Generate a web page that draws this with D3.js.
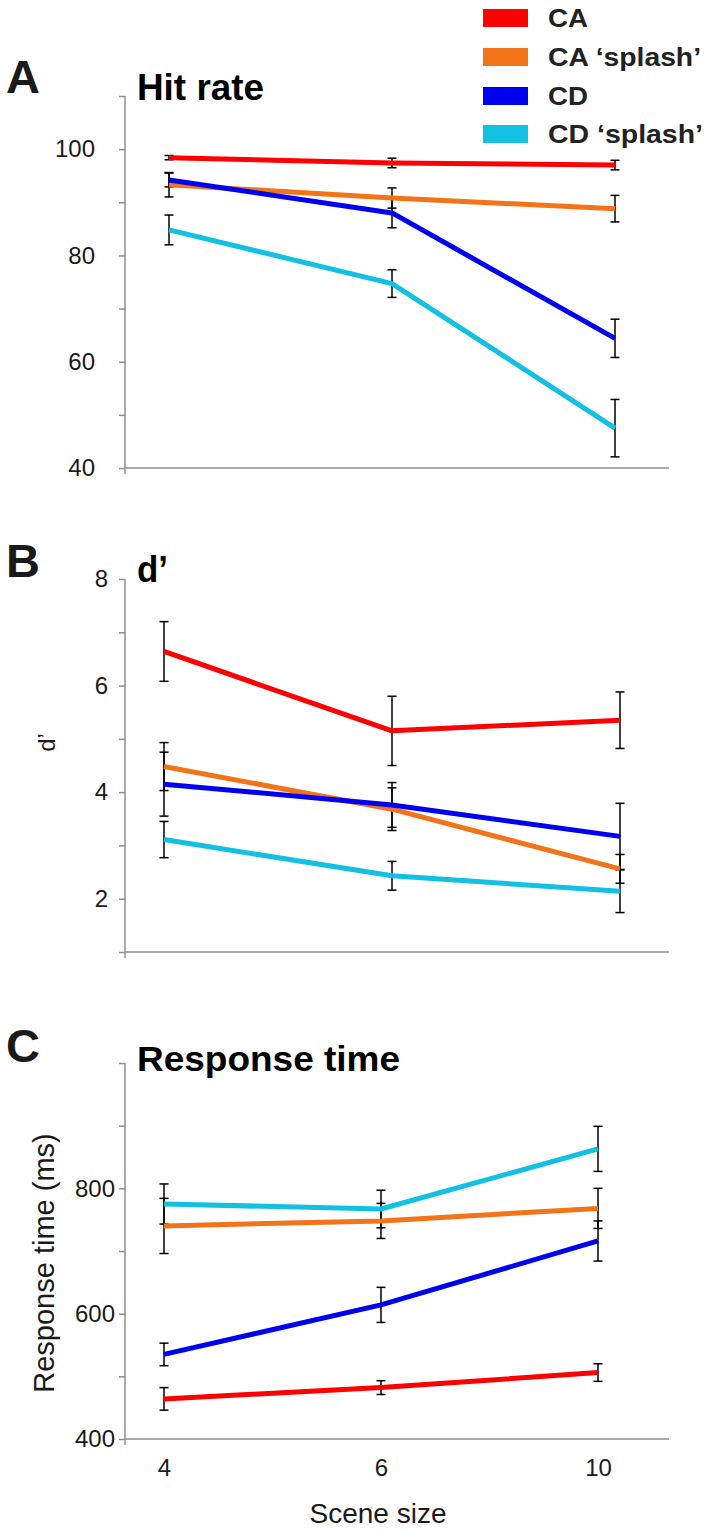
<!DOCTYPE html>
<html>
<head>
<meta charset="utf-8">
<script src="https://cdn.jsdelivr.net/npm/d3@7"></script>
<style>
  html, body { margin: 0; padding: 0; background: #fff; }
  svg { display: block; font-family: "Liberation Sans", Arial, Helvetica, sans-serif; }
</style>
</head>
<body>
<svg id="chart" width="710" height="1530"></svg>
<script>
// ---------- data ----------
const sceneSizes = ["4", "6", "10"];
const seriesNames = ["CA", "CA \u2018splash\u2019", "CD", "CD \u2018splash\u2019"];
const seriesColors = ["#ff0000", "#f27318", "#0000f0", "#12c0e4"];

// Panel A: Hit rate (%)
const hitCA = [98.4, 97.4, 97.0];
const hitCAsplash = [93.3, 90.8, 88.8];
const hitCD = [94.2, 88.0, 64.4];
const hitCDsplash = [84.8, 74.7, 47.5];
const hitErrCA = [0.4, 0.9, 0.9];
const hitErrCAsplash = [2.3, 1.9, 2.5];
const hitErrCD = [1.3, 2.8, 3.6];
const hitErrCDsplash = [2.8, 2.6, 5.4];

// Panel B: d'
const dCA = [6.64, 5.15, 5.35];
const dCAsplash = [4.48, 3.68, 2.56];
const dCD = [4.15, 3.76, 3.17];
const dCDsplash = [3.11, 2.43, 2.14];
const dErrCA = [0.56, 0.65, 0.53];
const dErrCAsplash = [0.45, 0.4, 0.27];
const dErrCD = [0.6, 0.42, 0.62];
const dErrCDsplash = [0.34, 0.27, 0.4];

// Panel C: Response time (ms)
const rtCA = [464, 482, 506];
const rtCAsplash = [740, 748, 768];
const rtCD = [535, 614, 716];
const rtCDsplash = [775, 767, 863];
const rtErrCA = [18, 11, 14];
const rtErrCAsplash = [44, 28, 32];
const rtErrCD = [18, 28, 32];
const rtErrCDsplash = [32, 30, 36];

const hitTicks = [110, 100, 90, 80, 70, 60, 50, 40];
const hitTickLabels = [100, 80, 60, 40];
const dTicks = [8, 7, 6, 5, 4, 3, 2, 1];
const dTickLabels = [8, 6, 4, 2];
const rtTicks = [1000, 900, 800, 700, 600, 500, 400];
const rtTickLabels = [800, 600, 400];

// ---------- drawing ----------
const svg = d3.select("#chart");
const axisColor = "#8f8f8f";

const panels = [
  { letter: "A", letterY: 93, title: "Hit rate", titleY: 100, titleLen: 127, titleSize: 36,
    domain: [40, 110], yTop: 96, yBot: 468, xRange: [169, 615], labelPad: 24,
    ticks: hitTicks, labels: hitTickLabels,
    values: [hitCA, hitCAsplash, hitCD, hitCDsplash],
    errs: [hitErrCA, hitErrCAsplash, hitErrCD, hitErrCDsplash] },
  { letter: "B", letterY: 577, title: "d\u2019", titleY: 582, titleLen: 31, titleSize: 36,
    domain: [1, 8], yTop: 579, yBot: 952, xRange: [164, 620], labelPad: 11,
    ticks: dTicks, labels: dTickLabels,
    values: [dCA, dCAsplash, dCD, dCDsplash],
    errs: [dErrCA, dErrCAsplash, dErrCD, dErrCDsplash],
    yLabel: "d\u2019", yLabelX: 46, yLabelSize: 24 },
  { letter: "C", letterY: 1062, title: "Response time", titleY: 1071, titleLen: 263, titleSize: 35,
    domain: [400, 1000], yTop: 1063, yBot: 1439, xRange: [164, 598], labelPad: 4,
    ticks: rtTicks, labels: rtTickLabels,
    values: [rtCA, rtCAsplash, rtCD, rtCDsplash],
    errs: [rtErrCA, rtErrCAsplash, rtErrCD, rtErrCDsplash],
    yLabel: "Response time (ms)", yLabelX: 44, yLabelSize: 29, xLabels: true }
];

const axisX = 125, axisRight = 669;

panels.forEach(p => {
  const g = svg.append("g");
  const y = d3.scaleLinear().domain(p.domain).range([p.yBot, p.yTop]);
  const x = d3.scalePoint().domain(sceneSizes).range(p.xRange);

  // panel letter
  g.append("text").attr("x", 6).attr("y", p.letterY)
    .attr("font-size", 47).attr("font-weight", "bold").attr("fill", "#1a1a1a")
    .text(p.letter);
  // title
  g.append("text").attr("x", 137).attr("y", p.titleY)
    .attr("font-size", p.titleSize).attr("font-weight", "bold").attr("fill", "#000")
    .attr("textLength", p.titleLen).attr("lengthAdjust", "spacingAndGlyphs")
    .text(p.title);

  // y axis
  const yAxis = d3.axisLeft(y).tickValues(p.ticks).tickSize(6).tickPadding(p.labelPad)
    .tickFormat(d => p.labels.includes(d) ? String(d) : "");
  const ya = g.append("g").attr("transform", `translate(${axisX},0)`).call(yAxis);
  ya.select(".domain").remove();
  ya.selectAll(".tick line").attr("stroke", axisColor).attr("stroke-width", 1.5);
  ya.selectAll(".tick text").attr("font-size", 24).attr("fill", "#1a1a1a")
    .attr("font-family", "Liberation Sans, Arial, sans-serif");
  g.append("line").attr("x1", axisX).attr("x2", axisX)
    .attr("y1", p.yTop).attr("y2", p.yBot + 6)
    .attr("stroke", axisColor).attr("stroke-width", 1.5);
  // x axis line
  g.append("line").attr("x1", axisX).attr("x2", axisRight)
    .attr("y1", p.yBot).attr("y2", p.yBot)
    .attr("stroke", axisColor).attr("stroke-width", 1.5);

  if (p.xLabels) {
    const xAxis = d3.axisBottom(x).tickSize(0).tickPadding(20);
    const xa = g.append("g").attr("transform", `translate(0,${p.yBot})`).call(xAxis);
    xa.select(".domain").remove();
    xa.selectAll(".tick text").attr("font-size", 24).attr("fill", "#1a1a1a")
      .attr("font-family", "Liberation Sans, Arial, sans-serif");
    g.append("text").attr("x", 378).attr("y", 1523).attr("text-anchor", "middle")
      .attr("font-size", 28).attr("fill", "#1a1a1a").text("Scene size");
  }
  if (p.yLabel) {
    const cy = (p.yTop + p.yBot) / 2 + (p.letter === "C" ? 12 : -23);
    g.append("text")
      .attr("transform", `translate(${p.yLabelX},${cy}) rotate(-90)`)
      .attr("text-anchor", "middle").attr("dominant-baseline", "central")
      .attr("font-size", p.yLabelSize).attr("fill", "#1a1a1a").text(p.yLabel);
  }

  // error bars (under lines)
  const eb = g.append("g").attr("stroke", "#000").attr("stroke-width", 1.5);
  p.values.forEach((vals, si) => {
    vals.forEach((v, i) => {
      const cx = x(sceneSizes[i]);
      const e = p.errs[si][i];
      const y1 = y(v + e), y2 = y(v - e);
      eb.append("line").attr("x1", cx).attr("x2", cx).attr("y1", y1).attr("y2", y2);
      eb.append("line").attr("x1", cx - 4.5).attr("x2", cx + 4.5).attr("y1", y1).attr("y2", y1);
      eb.append("line").attr("x1", cx - 4.5).attr("x2", cx + 4.5).attr("y1", y2).attr("y2", y2);
    });
  });

  // lines (draw order: cyan, orange, blue, red)
  const line = d3.line().x((d, i) => x(sceneSizes[i])).y(d => y(d));
  [3, 1, 2, 0].forEach(si => {
    g.append("path").datum(p.values[si])
      .attr("d", line).attr("fill", "none")
      .attr("stroke", seriesColors[si]).attr("stroke-width", 5)
      .attr("stroke-linejoin", "round");
  });
});

// legend
const legendTops = [9, 48, 87, 125];
const legendLens = [40, 153, 40, 155];
const lg = svg.append("g");
seriesNames.forEach((name, i) => {
  lg.append("rect").attr("x", 483).attr("y", legendTops[i]).attr("width", 45).attr("height", 18)
    .attr("fill", seriesColors[i]);
  lg.append("text").attr("x", 548).attr("y", legendTops[i] + 18)
    .attr("font-size", 25).attr("font-weight", "bold").attr("fill", "#222")
    .attr("textLength", legendLens[i]).attr("lengthAdjust", "spacingAndGlyphs")
    .text(name);
});
</script>
</body>
</html>
